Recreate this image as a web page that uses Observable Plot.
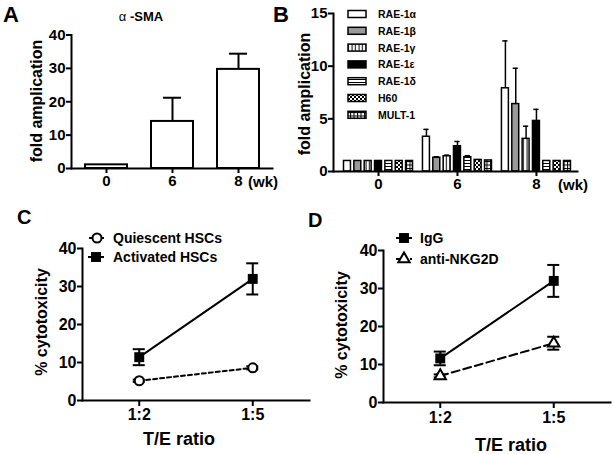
<!DOCTYPE html>
<html><head><meta charset="utf-8">
<script src="https://cdn.jsdelivr.net/npm/d3@7"></script>
<script src="https://cdn.jsdelivr.net/npm/@observablehq/plot@0.6"></script>
<style>
body{margin:0;background:#fff;}
#wrap{position:relative;width:615px;height:454px;overflow:hidden;background:#fff;}
</style></head><body><div id="wrap"></div>
<script>
// ---------- data ----------
const weeks = ["0", "6", "8"];
const smaMean = [1.1, 14.1, 29.7];
const smaErr = [0, 7.1, 4.7];

const ligands = ["RAE-1α", "RAE-1β", "RAE-1γ", "RAE-1ε", "RAE-1δ", "H60", "MULT-1"];
const lig0Mean = [1.0, 1.0, 1.0, 1.0, 1.0, 1.0, 1.0];
const lig0Err = [0, 0, 0, 0, 0, 0, 0];
const lig6Mean = [3.3, 1.3, 1.45, 2.4, 1.35, 1.1, 1.05];
const lig6Err = [0.7, 0.1, 0.1, 0.45, 0.15, 0, 0];
const lig8Mean = [7.9, 6.4, 3.1, 4.8, 1.0, 1.0, 1.0];
const lig8Err = [4.5, 3.4, 1.2, 1.1, 0, 0, 0];

const ratios = ["1:2", "1:5"];
const quiescentMean = [5.2, 8.6];
const quiescentErr = [0.3, 0.4];
const activatedMean = [11.4, 32.0];
const activatedErr = [2.1, 4.1];
const igGMean = [11.6, 32.0];
const igGErr = [1.8, 4.2];
const antiMean = [7.0, 15.6];
const antiErr = [0.4, 1.7];

// ---------- styles ----------
const W = 615, H = 454;
const FONT = "'Liberation Sans', Arial, Helvetica, sans-serif";
const ligandFill = ["white", "#9a9a9a", "url(#pg)", "black", "url(#pd)", "url(#ph)", "url(#pm)"];
const wrap = document.getElementById("wrap");

// patterns
const defs = d3.select(wrap).append("svg").attr("width", 0).attr("height", 0)
  .style("position", "absolute").append("defs");
function pat(id, w, h, bg, rects) {
  const p = defs.append("pattern").attr("id", id).attr("patternUnits", "userSpaceOnUse")
    .attr("width", w).attr("height", h);
  p.append("rect").attr("width", w).attr("height", h).attr("fill", bg);
  rects.forEach(([x, y, rw, rh, f]) => p.append("rect").attr("x", x).attr("y", y).attr("width", rw).attr("height", rh).attr("fill", f));
}
pat("pg", 3.5, 4, "white", [[1.5, 0, 1, 4, "black"]]);
pat("pd", 4, 3, "white", [[0, 1, 4, 1, "black"]]);
pat("ph", 4, 4, "black", [[0, 0, 2, 2, "white"], [2, 2, 2, 2, "white"]]);
pat("pm", 3.5, 3.5, "white", [[0, 0, 1, 3.5, "black"], [0, 0, 3.5, 1, "black"]]);

function layer(opts, fs) {
  const svg = Plot.plot({
    width: W, height: H, ...opts,
    style: {background: "transparent", fontFamily: FONT, fontWeight: "bold", fontSize: fs + "px", overflow: "visible"}
  });
  svg.style.position = "absolute";
  svg.style.left = "0px";
  svg.style.top = "0px";
  wrap.appendChild(svg);
}

// ---------- Panel A ----------
const aRows = weeks.map((w, i) => ({week: w, mean: smaMean[i], err: smaErr[i]}));
const aErr = aRows.filter(d => d.err > 0);
layer({
  marginLeft: 71, marginRight: W - 272, marginTop: 34.5, marginBottom: H - 168,
  x: {type: "band", domain: weeks, paddingInner: 0.37, paddingOuter: 0.2},
  y: {domain: [0, 40]},
  marks: [
    Plot.ruleX(aErr, {x: "week", y1: "mean", y2: d => d.mean + d.err, strokeWidth: 2}),
    Plot.tickY(aErr, {x: "week", y: d => d.mean + d.err, strokeWidth: 2, insetLeft: 12, insetRight: 12}),
    Plot.barY(aRows, {x: "week", y: "mean", fill: "white", stroke: "black", strokeWidth: 2}),
    Plot.frame({anchor: "left", strokeWidth: 2}),
    Plot.frame({anchor: "bottom", strokeWidth: 2}),
    Plot.axisY({ticks: [0, 10, 20, 30, 40], tickSize: 5, tickPadding: 1, strokeWidth: 2, fontSize: 15, label: null}),
    Plot.axisX({tickSize: 5, tickPadding: 2, strokeWidth: 2, fontSize: 15, label: null})
  ]
}, 15);

// ---------- Panel B ----------
const slot = 0.131, barW = 0.088, capW = 0.033;
const ligMeans = [lig0Mean, lig6Mean, lig8Mean];
const ligErrs = [lig0Err, lig6Err, lig8Err];
const bRows = weeks.flatMap((w, gi) => ligands.map((name, k) => ({
  gi, k, name, mean: ligMeans[gi][k], err: ligErrs[gi][k], fill: ligandFill[k]
})));
const bErr = bRows.filter(d => d.err > 0);
const cx = d => d.gi + (d.k - 3) * slot;
layer({
  marginLeft: 333, marginRight: W - 577, marginTop: 13, marginBottom: H - 171,
  x: {domain: [-0.57, 2.52]},
  y: {domain: [0, 15]},
  color: {type: "identity"},
  marks: [
    Plot.ruleX(bErr, {x: cx, y1: "mean", y2: d => d.mean + d.err, strokeWidth: 1.5}),
    Plot.ruleY(bErr, {y: d => d.mean + d.err, x1: d => cx(d) - capW, x2: d => cx(d) + capW, strokeWidth: 1.5}),
    Plot.rectY(bRows, {x1: d => cx(d) - barW / 2, x2: d => cx(d) + barW / 2, y1: 0, y2: "mean",
      fill: "fill", stroke: "black", strokeWidth: 1.5}),
    Plot.frame({anchor: "left", strokeWidth: 2}),
    Plot.frame({anchor: "bottom", strokeWidth: 2}),
    Plot.axisY({ticks: [0, 5, 10, 15], tickSize: 5, tickPadding: 1, strokeWidth: 2, fontSize: 15, label: null}),
    Plot.axisX({ticks: [0, 1, 2], tickFormat: i => weeks[i], tickSize: 5, tickPadding: 2, strokeWidth: 2, fontSize: 15, label: null})
  ]
}, 15);

// ---------- Panels C & D ----------
const capC = 0.053;
function linePanel(left, top, m1, e1, m2, e2, dash2, sym2, pad) {
  const r1 = ratios.map((r, i) => ({i, mean: m1[i], err: e1[i]}));
  const r2 = ratios.map((r, i) => ({i, mean: m2[i], err: e2[i]}));
  const all = r1.concat(r2);
  layer({
    marginLeft: left, marginRight: W - (left + 227), marginTop: top, marginBottom: H - (top + 152),
    x: {domain: [-0.5, 1.5]},
    y: {domain: [0, 40]},
    marks: [
      Plot.line(r2, {x: "i", y: "mean", stroke: "black", strokeWidth: 2, strokeDasharray: dash2}),
      Plot.line(r1, {x: "i", y: "mean", stroke: "black", strokeWidth: 2}),
      Plot.ruleX(all, {x: "i", y1: d => d.mean - d.err, y2: d => d.mean + d.err, strokeWidth: 2}),
      Plot.ruleY(all, {y: d => d.mean + d.err, x1: d => d.i - capC, x2: d => d.i + capC, strokeWidth: 2}),
      Plot.ruleY(all, {y: d => d.mean - d.err, x1: d => d.i - capC, x2: d => d.i + capC, strokeWidth: 2}),
      Plot.dot(r2, {x: "i", y: "mean", symbol: sym2, r: sym2 === "circle" ? 4.5 : 4.2, fill: "white", stroke: "black", strokeWidth: 2}),
      Plot.dot(r1, {x: "i", y: "mean", symbol: "square", r: 5.6, fill: "black"}),
      Plot.frame({anchor: "left", strokeWidth: 2}),
      Plot.frame({anchor: "bottom", strokeWidth: 2}),
      Plot.axisY({ticks: [0, 10, 20, 30, 40], tickSize: 5, tickPadding: 1, strokeWidth: 2, fontSize: 16, label: null}),
      Plot.axisX({ticks: [0, 1], tickFormat: i => ratios[i], tickSize: 6, tickPadding: pad, strokeWidth: 2, fontSize: 16, label: null})
    ]
  }, 16);
}
linePanel(82, 248, activatedMean, activatedErr, quiescentMean, quiescentErr, "4,3", "circle", 2);
linePanel(383, 250, igGMean, igGErr, antiMean, antiErr, "8,4", "triangle", 3);

// ---------- annotations ----------
const ann = d3.select(wrap).append("svg").attr("width", W).attr("height", H)
  .style("position", "absolute").style("left", 0).style("top", 0)
  .attr("font-family", FONT).attr("font-weight", "bold");
function txt(x, y, s, size, anchor = "start", rot = false) {
  const t = ann.append("text").attr("font-size", size).attr("text-anchor", anchor).text(s);
  if (rot) t.attr("transform", `translate(${x},${y}) rotate(-90)`).attr("dy", "0.35em");
  else t.attr("x", x).attr("y", y);
  return t;
}
txt(3, 22, "A", 22);
txt(273, 22, "B", 22);
txt(17, 224, "C", 20);
txt(308, 227, "D", 20);
const t1 = ann.append("text").attr("x", 141).attr("y", 21).attr("font-size", 13).attr("text-anchor", "middle");
t1.append("tspan").attr("font-weight", "normal").text("α");
t1.append("tspan").text(" -SMA");
txt(36, 101, "fold amplication", 16, "middle", true);
txt(304, 94, "fold amplication", 16, "middle", true);
txt(41, 322, "% cytotoxicity", 16, "middle", true);
txt(341, 325, "% cytotoxicity", 16, "middle", true);
txt(263, 187, "(wk)", 15, "middle");
txt(573, 190, "(wk)", 15, "middle");
txt(179, 445, "T/E ratio", 18, "middle");
txt(511, 451, "T/E ratio", 18, "middle");

// legend B
ligands.forEach((name, k) => {
  const y = 14 + k * 16.8;
  ann.append("rect").attr("x", 348).attr("y", y - 3.5).attr("width", 18).attr("height", 7)
    .attr("fill", ligandFill[k]).attr("stroke", "black").attr("stroke-width", 1.5);
  txt(378, y + 4, name, 10.5);
});

// legends C, D
function legRow(x, y, label, dash, sym, filled, tx, r) {
  ann.append("line").attr("x1", x - 8).attr("x2", x + 8).attr("y1", y).attr("y2", y)
    .attr("stroke", "black").attr("stroke-width", 2).attr("stroke-dasharray", dash || null);
  ann.append("path").attr("d", d3.symbol(sym, Math.PI * r * r)()).attr("transform", `translate(${x},${y})`)
    .attr("fill", filled ? "black" : "white").attr("stroke", filled ? "none" : "black").attr("stroke-width", 2);
  txt(tx, y + 5, label, 14);
}
legRow(97, 238, "Quiescent HSCs", "3,3", d3.symbolCircle, false, 113, 4.5);
legRow(96, 257, "Activated HSCs", null, d3.symbolSquare, true, 113, 5.6);
legRow(404, 238, "IgG", null, d3.symbolSquare, true, 420, 5.6);
legRow(404, 259, "anti-NKG2D", "4,3", d3.symbolTriangle, false, 420, 4.2);
</script></body></html>
